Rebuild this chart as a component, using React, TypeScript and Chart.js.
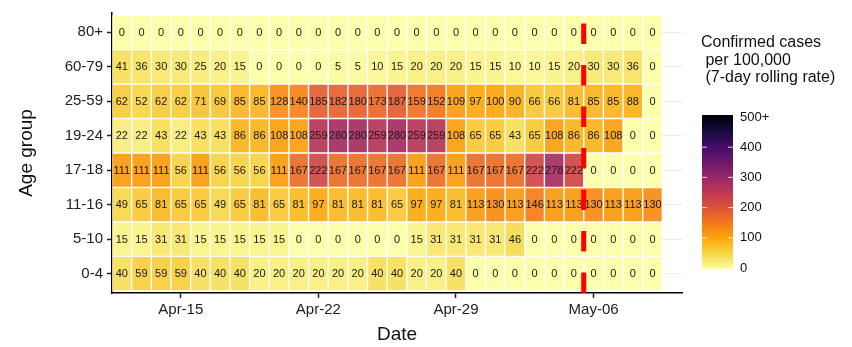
import React, { useEffect, useRef } from 'react';
import { Chart, registerables } from 'chart.js';

Chart.register(...registerables);

// ---- data ----
const dates = [
  'Apr-12', 'Apr-13', 'Apr-14', 'Apr-15', 'Apr-16', 'Apr-17', 'Apr-18',
  'Apr-19', 'Apr-20', 'Apr-21', 'Apr-22', 'Apr-23', 'Apr-24', 'Apr-25',
  'Apr-26', 'Apr-27', 'Apr-28', 'Apr-29', 'Apr-30', 'May-01', 'May-02',
  'May-03', 'May-04', 'May-05', 'May-06', 'May-07', 'May-08', 'May-09',
  'May-10',
];
const tickDates = ['Apr-15', 'Apr-22', 'Apr-29', 'May-06'];
const cutoffDate = 'May-06';

// bottom row first
const ageGroups = ['0-4', '5-10', '11-16', '17-18', '19-24', '25-59', '60-79', '80+'];

const rate0to4 = [40, 59, 59, 59, 40, 40, 40, 20, 20, 20, 20, 20, 20, 40, 40, 20, 20, 40, 0, 0, 0, 0, 0, 0, 0, 0, 0, 0];
const rate5to10 = [15, 15, 31, 31, 15, 15, 15, 15, 15, 0, 0, 0, 0, 0, 0, 15, 31, 31, 31, 31, 46, 0, 0, 0, 0, 0, 0, 0];
const rate11to16 = [49, 65, 81, 65, 65, 49, 65, 81, 65, 81, 97, 81, 81, 81, 65, 97, 97, 81, 113, 130, 113, 146, 113, 113, 130, 113, 113, 130];
const rate17to18 = [111, 111, 111, 56, 111, 56, 56, 56, 111, 167, 222, 167, 167, 167, 167, 111, 167, 111, 167, 167, 167, 222, 278, 222, 0, 0, 0, 0];
const rate19to24 = [22, 22, 43, 22, 43, 43, 86, 86, 108, 108, 259, 280, 280, 259, 280, 259, 259, 108, 65, 65, 43, 65, 108, 86, 86, 108, 0, 0];
const rate25to59 = [62, 52, 62, 62, 71, 69, 85, 85, 128, 140, 185, 182, 180, 173, 187, 159, 152, 109, 97, 100, 90, 66, 66, 81, 85, 85, 88, 0];
const rate60to79 = [41, 36, 30, 30, 25, 20, 15, 0, 0, 0, 0, 5, 5, 10, 15, 20, 20, 20, 15, 15, 10, 10, 15, 20, 30, 30, 36, 0];
const rate80plus = [0, 0, 0, 0, 0, 0, 0, 0, 0, 0, 0, 0, 0, 0, 0, 0, 0, 0, 0, 0, 0, 0, 0, 0, 0, 0, 0, 0];

const rates = [rate0to4, rate5to10, rate11to16, rate17to18, rate19to24, rate25to59, rate60to79, rate80plus];

const legendTicks = [0, 100, 200, 300, 400, 500];
const legendMax = 500;
const legendTitle = ['Confirmed cases', ' per 100,000', ' (7-day rolling rate)'];

// ---- colours ----
const INFERNO = ['#000004', '#160B39', '#420A68', '#6A176E', '#932667', '#BC3754', '#DD513A', '#F37819', '#FCA50A', '#F6D746', '#FCFFA4'];
const FONT = "'Liberation Sans', Arial, sans-serif";

function hexToRgb(h: string) {
  const n = parseInt(h.slice(1), 16);
  return [(n >> 16) & 255, (n >> 8) & 255, n & 255];
}
function inferno(t: number, alpha = 1) {
  const c = Math.max(0, Math.min(1, t)) * (INFERNO.length - 1);
  const i = Math.min(INFERNO.length - 2, Math.floor(c));
  const f = c - i;
  const a = hexToRgb(INFERNO[i]);
  const b = hexToRgb(INFERNO[i + 1]);
  const m = a.map((v, k) => Math.round(v + (b[k] - v) * f));
  return `rgba(${m[0]},${m[1]},${m[2]},${alpha})`;
}
function fillFor(v: number) {
  return inferno(1 - Math.min(v, legendMax) / legendMax, 0.92);
}

// ---- plugins ----
const cellTextPlugin = {
  id: 'cellText',
  afterDatasetsDraw(chart: any) {
    const ctx = chart.ctx;
    ctx.save();
    ctx.font = `11px ${FONT}`;
    ctx.fillStyle = '#1a1a1a';
    ctx.textAlign = 'center';
    ctx.textBaseline = 'middle';
    chart.data.datasets.forEach((ds: any, di: number) => {
      const meta = chart.getDatasetMeta(di);
      meta.data.forEach((el: any, i: number) => {
        const v = ds.values[i];
        if (v === undefined || v === null) return;
        const p = el.getProps(['x', 'y', 'base'], true);
        ctx.fillText(String(v), p.x, (p.y + p.base) / 2 + 0.5);
      });
    });
    ctx.restore();
  },
};

const cutoffPlugin = {
  id: 'cutoff',
  afterDatasetsDraw(chart: any) {
    const xs = chart.scales.x;
    const idx = dates.indexOf(cutoffDate);
    const x = (xs.getPixelForValue(idx - 1) + xs.getPixelForValue(idx)) / 2;
    const { top, bottom } = chart.chartArea;
    const ctx = chart.ctx;
    ctx.save();
    ctx.strokeStyle = '#FF0000';
    ctx.lineWidth = 5;
    ctx.setLineDash([20.5, 21]);
    ctx.beginPath();
    ctx.moveTo(x, bottom);
    ctx.lineTo(x, top);
    ctx.stroke();
    ctx.restore();
  },
};

const legendPlugin = {
  id: 'colorLegend',
  afterDraw(chart: any) {
    const ctx = chart.ctx;
    ctx.save();
    ctx.fillStyle = '#111';
    ctx.font = `16px ${FONT}`;
    ctx.textAlign = 'left';
    ctx.textBaseline = 'middle';
    legendTitle.forEach((line, i) => {
      ctx.fillText(line, 701, 43 + i * 17.5);
    });
    const x0 = 702, w = 31, yTop = 115, yBot = 269;
    const v0y = 268, v500y = 117;
    const grad = ctx.createLinearGradient(0, yBot, 0, yTop);
    for (let k = 0; k <= 20; k++) {
      grad.addColorStop(k / 20, inferno(1 - k / 20, 1));
    }
    ctx.fillStyle = grad;
    ctx.fillRect(x0, yTop, w, yBot - yTop);
    ctx.strokeStyle = 'rgba(255,255,255,0.8)';
    ctx.lineWidth = 1;
    ctx.font = `13px ${FONT}`;
    ctx.fillStyle = '#111';
    legendTicks.forEach((t) => {
      const y = v0y + (v500y - v0y) * (t / legendMax);
      if (t > 0 && t < legendMax) {
        ctx.beginPath();
        ctx.moveTo(x0, y); ctx.lineTo(x0 + 5, y);
        ctx.moveTo(x0 + w - 5, y); ctx.lineTo(x0 + w, y);
        ctx.stroke();
      }
      ctx.fillText(t === legendMax ? `${t}+` : String(t), 740, y);
    });
    ctx.restore();
  },
};

export default function App() {
  const ref = useRef<HTMLCanvasElement | null>(null);
  useEffect(() => {
    if (!ref.current) return;
    const datasets = ageGroups.map((g, gi) => ({
      label: g,
      values: rates[gi],
      data: dates.map((_, i) => (i < rates[gi].length ? 1 : null)),
      backgroundColor: dates.map((_, i) => (i < rates[gi].length ? fillFor(rates[gi][i]) : 'transparent')),
      borderColor: 'rgba(255,255,255,0.5)',
      borderWidth: 1,
      borderSkipped: false,
      barPercentage: 1,
      categoryPercentage: 1,
    }));
    const chart = new Chart(ref.current, {
      type: 'bar',
      data: { labels: dates, datasets: datasets as any },
      plugins: [cellTextPlugin, cutoffPlugin, legendPlugin],
      options: {
        animation: false,
        responsive: false,
        maintainAspectRatio: false,
        layout: { padding: { top: 8, right: 170, bottom: 0, left: 0 } },
        plugins: { legend: { display: false }, tooltip: { enabled: false }, title: { display: false } },
        scales: {
          x: {
            stacked: true,
            offset: true,
            afterFit: (s: any) => { s.height = 54; },
            grid: { display: true, offset: false, drawOnChartArea: false, tickLength: 5, tickColor: '#222', tickWidth: 1.5 },
            border: { display: true, color: '#000', width: 1.5 },
            ticks: {
              autoSkip: false,
              maxRotation: 0,
              padding: 3,
              color: '#222',
              font: { family: FONT, size: 15 },
              callback: (_v: any, i: number) => (tickDates.includes(dates[i]) ? dates[i] : null),
            },
            title: { display: true, text: 'Date', color: '#111', font: { family: FONT, size: 19 }, padding: { top: 0, bottom: 1 } },
          },
          y: {
            type: 'linear',
            stacked: true,
            min: -0.06,
            max: 8.06,
            afterFit: (s: any) => { s.width = 112; },
            afterBuildTicks: (s: any) => { s.ticks = ageGroups.map((_, i) => ({ value: i + 0.5 })); },
            grid: { color: '#EBEBEB', lineWidth: 1, tickLength: 5, tickColor: '#222', tickWidth: 1.5 },
            border: { display: true, color: '#000', width: 1.5 },
            ticks: {
              padding: 4,
              color: '#222',
              font: { family: FONT, size: 15 },
              callback: (v: any) => ageGroups[Math.floor(Number(v))],
            },
            title: { display: true, text: 'Age group', color: '#111', font: { family: FONT, size: 19 }, padding: { top: 15, bottom: 0 } },
          },
        },
      } as any,
    });
    return () => chart.destroy();
  }, []);
  return (
    <div style={{ position: 'absolute', left: 0, top: 0, width: 852, height: 347, background: '#fff' }}>
      <canvas ref={ref} width={852} height={347} style={{ width: 852, height: 347, display: 'block' }} />
    </div>
  );
}
